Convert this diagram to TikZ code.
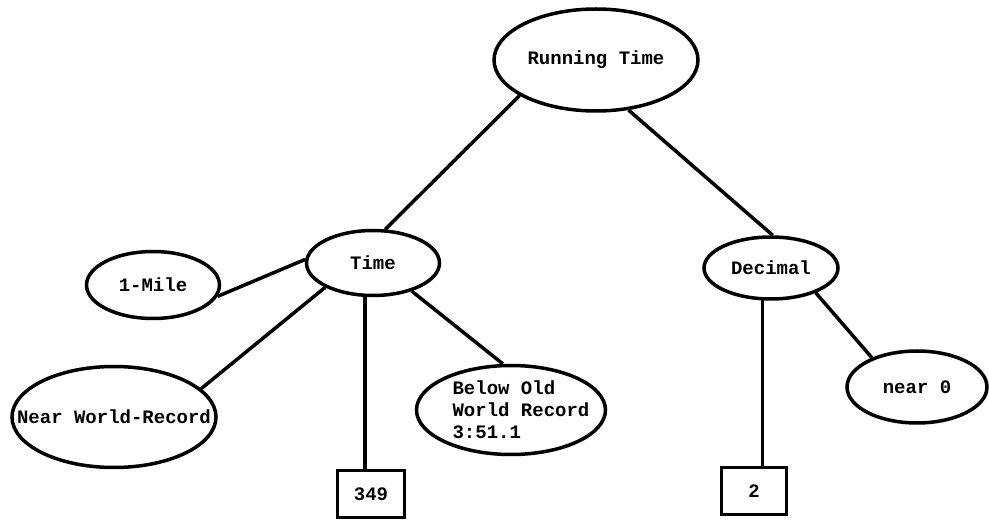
\documentclass[tikz,border=0pt]{standalone}
\usepackage{fontspec}
\setmonofont{Liberation Mono}
\usetikzlibrary{shapes.geometric}
\begin{document}
\begin{tikzpicture}[x=1pt,y=-1pt,
  lab/.style={font=\fontsize{19}{22}\selectfont\ttfamily\bfseries, inner sep=0pt},
  oval/.style={draw, line width=3.5pt, ellipse, inner sep=0pt},
  valbox/.style={draw, line width=3.5pt, rectangle, inner sep=0pt, font=\fontsize{19}{22}\selectfont\ttfamily\bfseries},
  link/.style={line width=3.5pt}]
\useasboundingbox (0,0) rectangle (989,521);
\node[oval, minimum width=204pt, minimum height=102pt, label={[lab]center:Running Time}] (rt) at (596,60) {};
\node[oval, minimum width=133pt, minimum height=65pt, label={[lab]center:Time}] (time) at (373,263) {};
\node[oval, minimum width=134pt, minimum height=62pt, label={[lab]center:Decimal}] (dec) at (771,268) {};
\node[oval, minimum width=133pt, minimum height=67pt, label={[lab]center:1-Mile}] (mile) at (153,285) {};
\node[oval, minimum width=204pt, minimum height=101pt, label={[lab]center:Near World-Record}] (nwr) at (114,417) {};
\node[oval, minimum width=189pt, minimum height=89pt, label={[lab, align=left, xshift=10pt]center:Below Old\\World Record\\3:51.1}] (bow) at (511,410) {};
\node[oval, minimum width=140pt, minimum height=72pt, label={[lab]center:near 0}] (near) at (917,387) {};
\node[valbox, minimum width=67pt, minimum height=47pt] (b349) at (371,494) {349};
\node[valbox, minimum width=65pt, minimum height=47pt] (b2) at (754,491) {2};
\draw[link] (rt.205) -- (time.70);
\draw[link] (rt.-57) -- (dec.87);
\draw[link] (time.177) -- (mile.-10);
\draw[link] (time.207) -- (nwr.18);
\draw[link] (time.-103) -- (time.-103 |- b349.north);
\draw[link] (time.-36) -- (bow.100);
\draw[link] (dec.-105) -- (dec.-105 |- b2.north);
\draw[link] (dec.-29) -- (near.147);
\end{tikzpicture}
\end{document}
